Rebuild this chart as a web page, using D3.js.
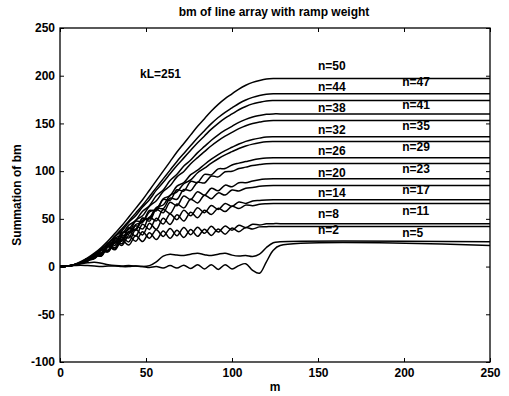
<!DOCTYPE html>
<html>
<head>
<meta charset="utf-8">
<script src="https://cdn.jsdelivr.net/npm/d3@7"></script>
<style>
  html, body { margin: 0; padding: 0; background: #fff; }
  svg { display: block; }
  text { font-family: "Liberation Sans", Arial, Helvetica, sans-serif; font-weight: bold; fill: #000; }
</style>
</head>
<body>
<svg id="chart" width="509" height="396"></svg>
<script>
// Partial sums of bm against m for a line array with ramp weighting (kL = 251)
const mGrid = [0,4,8,12,16,20,24,28,32,36,40,44,48,52,56,60,64,68,72,76,80,84,88,92,96,100,104,108,112,116,120,124,128,250];

const bmN50 = [0,0.5,2,5,9,14,20,27,35,43,52,61,70,80,90,100,110,120,129,138,147,155,163,170,176,181,186,190,193,195,196.5,197,197,197];
const bmN47 = [0,0.5,1.9,4.6,8.3,12.9,18.4,24.8,32.2,39.5,47.8,56,64.3,73.5,82.7,91.9,101.1,110.2,118.5,126.8,135.1,142.4,149.8,156.2,161.7,166.3,170.9,174.6,177.3,179.2,180.5,181,181,181];
const bmN44 = [0,0.4,1.8,4.4,8,12.4,18.3,23.3,31.5,37.4,46.5,53.3,62.4,70.1,80.1,88.3,97.2,106,113.9,121.9,129.8,136.9,144,150.1,155.5,159.9,164.3,167.8,170.5,172.2,173.6,174,174,174];
const bmN41 = [0,0.4,1.6,4.1,7.3,11.4,17.2,20.9,29.6,33.7,43.4,48.3,58,63.8,74.1,80.2,90.1,96.7,105.3,111.6,119.4,125.9,132.4,138.1,142.9,147,151.1,154.3,156.8,158.4,159.6,160,160,160];
const bmN38 = [0,0.4,1.6,3.9,7,10.9,14.5,22,26,34.6,39.2,48.6,53.2,63.3,68.9,78.7,84.6,94,99.7,107.7,114.2,120.4,126.6,132,136.7,140.6,144.5,147.6,149.9,151.4,152.6,153,153,153];
const bmN35 = [0,0.3,1.4,3.5,6.2,10.7,12.3,20.6,22.2,31.7,33.9,44.1,46.3,57.2,60.1,71,74.4,84.3,88.1,96.3,101,107,112.5,117.4,121.5,125,128.4,131.2,133.2,134.6,135.7,136,136,136];
const bmN32 = [0,0.3,1.3,3.3,6,8.3,14.8,16,25.3,26.6,36.6,38.6,48.5,51.2,61.9,64.5,74.7,78.3,86.8,90.8,98.3,103.1,108.4,113,117,120.4,123.7,126.3,128.3,129.7,130.7,131,131,131];
const bmN29 = [0,0.4,1.7,4,7.4,12.9,13.4,24.7,24.3,36.1,35.7,47.5,47.1,58.9,58.5,70.3,69.4,80.5,79.1,89.2,88.1,96.6,96.1,102.4,102.7,106.5,108.4,110,111.7,112.9,113.7,114,114,114];
const bmN26 = [0,0.4,1.7,3.8,7,9.3,17.6,17.5,28.9,28.3,39.7,39.1,50.5,49.9,61.3,60.7,71.6,70.5,80.7,79.6,88.3,87.6,94.9,94,99.3,99.9,102.7,104.2,105.9,106.9,107.7,108,108,108];
const bmN23 = [0,0.4,1.9,4.2,8.4,9,18.6,16.8,29.8,27.3,40.8,37.9,50.9,47.6,60.1,56.3,67.4,63.7,73.9,70.2,78.5,74.8,82.1,79.4,85.3,83.6,87.9,87.9,89.7,91.1,91.7,92,92,92];
const bmN20 = [0,0.4,1.7,3.8,5.8,12.2,11.4,22.2,19.8,32.9,30,42.7,39.3,51.6,47.9,59.7,55.6,65.5,61.5,70.6,66.7,74.8,71.1,77.2,74.9,80.2,79.3,82.1,82.9,84.1,84.7,85,85,85];
const bmN17 = [0,0.4,1.8,3.8,8,8.5,17.7,15.4,27.8,24,36.7,31.9,44.4,38.9,50.7,44.5,55.1,49.2,59,53.2,61.6,56.5,63.9,59.8,66.2,63.1,67.7,66.2,68.8,69.3,69.8,70,70,70];
const bmN14 = [0,0.4,1.7,3.6,5.6,11.9,10.9,21.4,18.4,30.4,25.9,38.9,33.2,45.5,39.1,50.7,44.1,54.2,47.8,57,51.2,59.1,54.5,61.2,57.6,63.3,60.9,64.4,63.8,65.3,65.8,66,66,66];
const bmN11 = [0,0.4,1.8,4,8.2,8.8,17.4,15.9,26,22.2,32.4,26.6,36.4,29.7,38.7,31.6,40,32.4,40.9,33.4,41.3,34.8,42.2,36.1,42.6,38.1,43.4,40.8,44.3,43.6,44.8,45,45,45];
const bmN8  = [0,0.4,1.7,3.8,5.8,12,11.4,20.7,17.6,27.5,22.5,32.6,26.2,35.5,28.3,37.2,29.6,38,30.5,38.9,31.7,39.2,32.6,39.5,34,40.4,36.6,41,39.4,41.6,41.8,42,42,42];
const bmN5  = [0,0.5,1.5,3,4,4.5,3.5,2,1,0.5,1,0.5,0,1,5,11,13,12,11.5,13,14,12.5,11.5,13,14,12,11,11.5,10.5,13,20,25,26,26];
const bmN2  = [0,0.5,1,1.5,1,0.5,0,0.5,0.5,0,0,0.5,0,-1,0,-1.5,1,-1.5,1.5,-2,2,-2.5,2,-3,2,-2.5,1,3,-4,-7,5,17,22,22];

const series = [bmN50, bmN47, bmN44, bmN41, bmN38, bmN35, bmN32, bmN29, bmN26,
                bmN23, bmN20, bmN17, bmN14, bmN11, bmN8, bmN5, bmN2];

// Curve annotations, placed in data coordinates
const leftNames  = ["n=50","n=44","n=38","n=32","n=26","n=20","n=14","n=8","n=2"];
const leftAt     = [210, 188, 166, 143, 121, 98, 77, 55, 39];
const rightNames = ["n=47","n=41","n=35","n=29","n=23","n=17","n=11","n=5"];
const rightAt    = [194, 170, 148, 125, 102, 80, 58, 35];

const xTicks = [0, 50, 100, 150, 200, 250];
const yTicks = [-100, -50, 0, 50, 100, 150, 200, 250];

const svg = d3.select("#chart");
const L = 60, R = 490, T = 28, B = 362;
const x = d3.scaleLinear().domain([0, 250]).range([L, R]);
const y = d3.scaleLinear().domain([-100, 250]).range([B, T]);
const FS = 12;

// title and axis labels
svg.append("text").attr("x", 274).attr("y", 16).attr("text-anchor", "middle")
  .attr("font-size", FS).text("bm of line array with ramp weight");
svg.append("text").attr("x", 275).attr("y", 391).attr("text-anchor", "middle")
  .attr("font-size", FS).text("m");
svg.append("text").attr("transform", "translate(21,195) rotate(-90)")
  .attr("text-anchor", "middle").attr("font-size", FS).text("Summation of bm");

// axes with inward ticks on all four sides
const axisStyle = g => {
  g.select(".domain").remove();
  g.selectAll(".tick line").attr("stroke", "#000").attr("stroke-width", 1);
  g.selectAll(".tick text").attr("font-size", FS).attr("font-family", "Liberation Sans, Arial, sans-serif").attr("font-weight", "bold");
};
svg.append("g").attr("transform", `translate(0,${B})`)
  .call(d3.axisBottom(x).tickValues(xTicks).tickSize(-4).tickPadding(6)).call(axisStyle);
svg.append("g").attr("transform", `translate(0,${T})`)
  .call(d3.axisTop(x).tickValues(xTicks).tickSize(-4).tickFormat("")).call(axisStyle);
svg.append("g").attr("transform", `translate(${L},0)`)
  .call(d3.axisLeft(y).tickValues(yTicks).tickSize(-4).tickPadding(5).tickFormat(d => d < 0 ? "-" + Math.abs(d) : d)).call(axisStyle);
svg.append("g").attr("transform", `translate(${R},0)`)
  .call(d3.axisRight(y).tickValues(yTicks).tickSize(-4).tickFormat("")).call(axisStyle);

svg.append("rect").attr("x", L).attr("y", T).attr("width", R - L).attr("height", B - T)
  .attr("fill", "none").attr("stroke", "#000").attr("stroke-width", 1.3);

// annotations
svg.append("text").attr("x", x(46.5)).attr("y", y(202)).attr("dy", "0.35em")
  .attr("font-size", FS).text("kL=251");
svg.selectAll("text.left").data(leftNames).join("text").attr("class", "left")
  .attr("x", x(150)).attr("y", (d, i) => y(leftAt[i])).attr("dy", "0.35em")
  .attr("font-size", FS).text(d => d);
svg.selectAll("text.right").data(rightNames).join("text").attr("class", "right")
  .attr("x", x(199)).attr("y", (d, i) => y(rightAt[i])).attr("dy", "0.35em")
  .attr("font-size", FS).text(d => d);

// curves
const line = d3.line()
  .x((d, i) => x(mGrid[i]))
  .y(d => y(d))
  .curve(d3.curveCatmullRom.alpha(0.5));
svg.append("g").selectAll("path").data(series).join("path")
  .attr("d", line).attr("fill", "none").attr("stroke", "#000")
  .attr("stroke-width", 1.5).attr("stroke-linejoin", "round");
</script>
</body>
</html>
